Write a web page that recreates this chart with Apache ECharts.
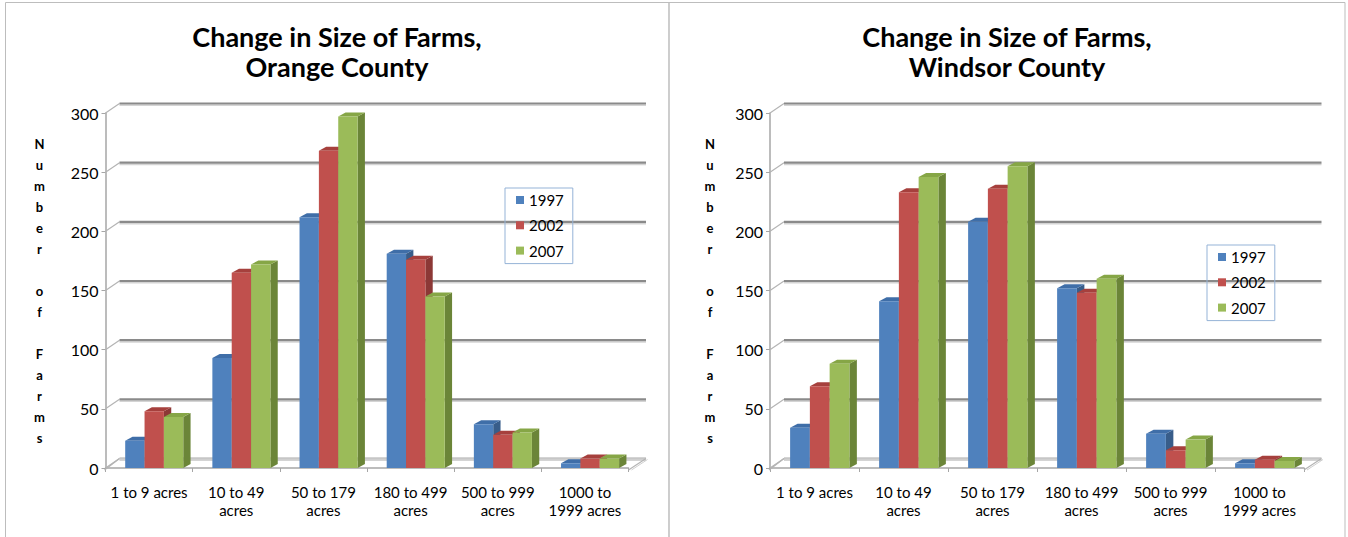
<!DOCTYPE html>
<html>
<head>
<meta charset="utf-8">
<script src="https://cdn.jsdelivr.net/npm/echarts@6/dist/echarts.min.js"></script>
<style>
  html, body { margin: 0; padding: 0; background: #fff; }
  #chart { width: 1348px; height: 537px; }
</style>
</head>
<body>
<div id="chart"></div>
<script>
// Farm counts by size class, for the three census years
const categories = ['1 to 9 acres', '10 to 49\nacres', '50 to 179\nacres', '180 to 499\nacres', '500 to 999\nacres', '1000 to\n1999 acres'];
const years = ['1997', '2002', '2007'];

const orange1997 = [23, 93, 212, 181, 37, 4];
const orange2002 = [48, 165, 268, 176, 28, 8];
const orange2007 = [43, 172, 297, 145, 30, 8];

const windsor1997 = [34, 141, 208, 152, 29, 4];
const windsor2002 = [69, 233, 236, 148, 15, 7];
const windsor2007 = [88, 246, 255, 160, 24, 6];

const valueTicks = [0, 50, 100, 150, 200, 250, 300];
const yAxisTitle = 'N\nu\nm\nb\ne\nr\n\no\nf\n\nF\na\nr\nm\ns';

const titles = ['Change in Size of Farms,\nOrange County', 'Change in Size of Farms,\nWindsor County'];

// Face shading for the extruded columns
const faces = [
  { front: '#4f81bd', top: '#3f6ea8', side: '#385d8a' },
  { front: '#c0504d', top: '#a6403d', side: '#8c3836' },
  { front: '#9bbb59', top: '#86a646', side: '#6b8538' }
];

const FONT = 'Lato, "Open Sans", sans-serif';
const WALL_DX = 14, WALL_DY = -9.5;

// One column with front, top and side faces
function barRenderer(slot) {
  return function (params, api) {
    const cat = api.value(0), v = api.value(1);
    const band = api.size([1, 0])[0];
    const base = api.coord([cat, 0]);
    const top = api.coord([cat, v]);
    const w = band * 0.222, dx = band * 0.084, dy = -4;
    const x0 = base[0] - band * 0.274 + slot * w;
    const x1 = x0 + w, yt = top[1], yb = base[1];
    const c = faces[slot];
    return {
      type: 'group',
      children: [
        { type: 'polygon', shape: { points: [[x1, yt], [x1 + dx, yt + dy], [x1 + dx, yb + dy], [x1, yb]] }, style: { fill: c.side } },
        { type: 'polygon', shape: { points: [[x0, yt], [x0 + dx, yt + dy], [x1 + dx, yt + dy], [x1, yt]] }, style: { fill: c.top } },
        { type: 'rect', shape: { x: x0, y: yt, width: w, height: yb - yt }, style: { fill: c.front } }
      ]
    };
  };
}

// Back-wall gridline with its slanted connector to the value axis
function wallRenderer(params, api) {
  const v = api.value(1);
  const cs = params.coordSys;
  const y = api.coord([0, v])[1];
  const xl = cs.x, xr = cs.x + cs.width;
  const floor = v === 0;
  return {
    type: 'group',
    children: [
      { type: 'line', shape: { x1: xl, y1: y, x2: xl + WALL_DX, y2: y + WALL_DY }, style: { stroke: '#b4b4b4', lineWidth: 1.2 } },
      { type: 'line', shape: { x1: xl + WALL_DX, y1: y + WALL_DY + 1.8, x2: xr + 17.5, y2: y + WALL_DY + 1.8 }, style: { stroke: '#d4d4d4', lineWidth: 1.5 } },
      { type: 'line', shape: { x1: xl + WALL_DX, y1: y + WALL_DY, x2: xr + 17.5, y2: y + WALL_DY }, style: { stroke: floor ? '#c6c6c6' : '#8a8a8a', lineWidth: floor ? 2.5 : 2.2 } }
    ]
  };
}

// Floor side edges
function floorRenderer(params, api) {
  const cs = params.coordSys;
  const y0 = api.coord([0, 0])[1];
  const xl = cs.x, xr = cs.x + cs.width;
  return {
    type: 'group',
    children: [
      { type: 'line', shape: { x1: xl - 1, y1: y0 + 2, x2: xl + WALL_DX, y2: y0 + WALL_DY }, style: { stroke: '#b4b4b4', lineWidth: 1.2 } },
      { type: 'line', shape: { x1: xr, y1: y0 + 2, x2: xr + 17.5, y2: y0 + WALL_DY }, style: { stroke: '#b4b4b4', lineWidth: 1.2 } },
      { type: 'line', shape: { x1: xr + 3, y1: y0 + 2, x2: xr + 19, y2: y0 + WALL_DY + 1 }, style: { stroke: '#cfcfcf', lineWidth: 1 } }
    ]
  };
}

const panels = [
  { values: [orange1997, orange2002, orange2007], grid: { left: 105.5, top: 113, width: 523, height: 355 }, center: 337, nameGap: 66, legend: { left: 505, top: 188 } },
  { values: [windsor1997, windsor2002, windsor2007], grid: { left: 770, top: 113, width: 534, height: 355 }, center: 1007, nameGap: 60, legend: { left: 1207, top: 245 } }
];

const axisGray = '#a6a6a6';
const option = {
  animation: false,
  backgroundColor: '#fff',
  title: panels.map((p, i) => ({
    text: titles[i],
    left: p.center,
    top: 21,
    textAlign: 'center',
    padding: 0,
    textStyle: { fontFamily: FONT, fontWeight: 'bold', fontSize: 27, lineHeight: 30, color: '#000' }
  })),
  legend: panels.map(p => ({
    data: years,
    orient: 'vertical',
    left: p.legend.left,
    top: p.legend.top,
    icon: 'rect',
    itemWidth: 8,
    itemHeight: 8,
    itemGap: 7.3,
    padding: [3, 9, 4, 11],
    borderColor: '#95b3d7',
    borderWidth: 1,
    selectedMode: false,
    textStyle: { fontFamily: FONT, fontSize: 15, lineHeight: 18, color: '#000' }
  })),
  grid: panels.map(p => p.grid),
  xAxis: panels.map((p, i) => ({
    type: 'category',
    gridIndex: i,
    data: categories,
    boundaryGap: true,
    offset: 2,
    axisLine: { show: true, lineStyle: { color: axisGray, width: 1.5 } },
    axisTick: { show: true, length: 4, lineStyle: { color: axisGray } },
    axisLabel: { interval: 0, margin: 13, fontFamily: FONT, fontSize: 15, lineHeight: 18, color: '#000' },
    splitLine: { show: false }
  })),
  yAxis: panels.map((p, i) => ({
    type: 'value',
    gridIndex: i,
    min: 0,
    max: 300,
    interval: 50,
    name: yAxisTitle,
    nameLocation: 'middle',
    nameRotate: 0,
    nameGap: p.nameGap,
    nameTextStyle: { fontFamily: FONT, fontWeight: 'bold', fontSize: 13, lineHeight: 21, align: 'center', color: '#000', padding: [7, 0, 0, 0] },
    axisLine: { show: true, lineStyle: { color: axisGray, width: 1.5 } },
    axisTick: { show: true, length: 4, lineStyle: { color: axisGray } },
    axisLabel: { margin: 7, fontFamily: FONT, fontSize: 16, color: '#000' },
    splitLine: { show: false }
  })),
  graphic: [
    { type: 'rect', silent: true, z: -10, shape: { x: 5.5, y: 2.5, width: 663.5, height: 600 }, style: { fill: null, stroke: '#bdbdbd', lineWidth: 1 } },
    { type: 'rect', silent: true, z: -10, shape: { x: 669, y: 2.5, width: 676, height: 600 }, style: { fill: null, stroke: '#bdbdbd', lineWidth: 1 } }
  ],
  series: []
};

panels.forEach((p, i) => {
  option.series.push({
    type: 'custom', xAxisIndex: i, yAxisIndex: i, z: 1, silent: true, clip: false,
    encode: { x: 0, y: 1 },
    data: valueTicks.map(v => [0, v]),
    renderItem: wallRenderer
  });
  option.series.push({
    type: 'custom', xAxisIndex: i, yAxisIndex: i, z: 1, silent: true, clip: false,
    encode: { x: 0, y: 1 },
    data: [[0, 0]],
    renderItem: floorRenderer
  });
  p.values.forEach((vals, k) => {
    option.series.push({
      type: 'custom',
      name: years[k],
      xAxisIndex: i, yAxisIndex: i, z: 2, clip: false,
      itemStyle: { color: faces[k].front },
      encode: { x: 0, y: 1 },
      data: vals.map((v, c) => [c, v]),
      renderItem: barRenderer(k)
    });
  });
});

const chart = echarts.init(document.getElementById('chart'), null, { renderer: 'svg' });
chart.setOption(option);
</script>
</body>
</html>
